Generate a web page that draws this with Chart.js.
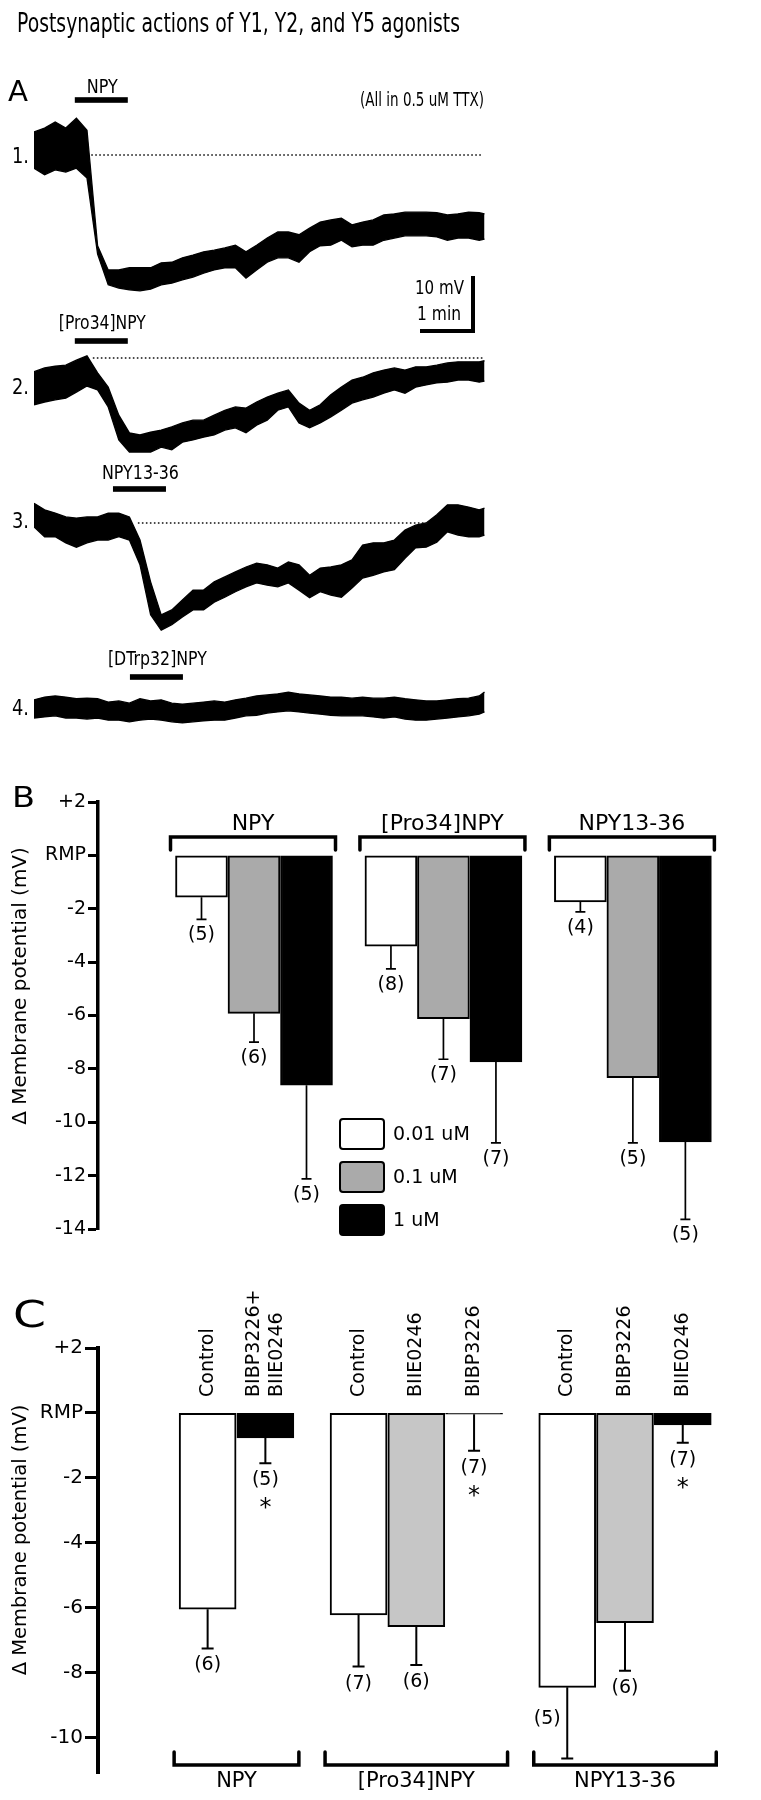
<!DOCTYPE html>
<html>
<head>
<meta charset="utf-8">
<script src="https://cdn.jsdelivr.net/npm/chart.js@4.4.1/dist/chart.umd.min.js"></script>
<style>
html,body{margin:0;padding:0;background:#fff;}
#wrap{position:relative;width:761px;height:1800px;overflow:hidden;background:#fff;}
canvas{position:absolute;left:0;}
</style>
</head>
<body>
<div id="wrap">
<canvas id="cA" width="761" height="740" style="top:0px"></canvas>
<canvas id="cB" width="761" height="510" style="top:740px"></canvas>
<canvas id="cC" width="761" height="550" style="top:1250px"></canvas>
</div>
<script>
// ================= DATA =================
// Panel A: membrane potential traces (mV relative to resting potential), read as upper / lower edge of the noisy trace
const traceTimeMin = [0,0.2,0.4,0.6,0.8,1.0,1.2,1.4,1.6,1.8,2.0,2.2,2.4,2.6,2.8,3.0,3.2,3.4,3.6,3.8,4.0,4.2,4.4,4.6,4.8,5.0,5.2,5.4,5.6,5.8,6.0,6.2,6.4,6.6,6.8,7.0,7.2,7.4,7.6,7.8,8.0,8.2,8.4,8.5];
const traceNames = ['1.','2.','3.','4.'];
const agonistNames = ['NPY','[Pro34]NPY','NPY13-36','[DTrp32]NPY'];
const agonistOnsetMin = [0.77,0.77,1.49,1.81];
const agonistDurationMin = 1.0;
const restLineMin = [[1.08,8.47],[1.11,8.47],[1.96,7.42],null];

const trace1Upper = [4.2,4.9,6.0,4.9,6.7,4.5,-16.5,-20.9,-20.9,-20.5,-20.5,-20.5,-19.6,-19.5,-18.7,-18.2,-17.6,-17.3,-16.9,-16.4,-17.6,-16.4,-15.1,-14.0,-14.0,-14.5,-13.3,-12.2,-11.8,-11.5,-12.7,-12.2,-11.8,-10.9,-10.7,-10.4,-10.4,-10.4,-10.5,-10.9,-10.7,-10.4,-10.5,-10.7];
const trace1Lower = [-2.4,-3.6,-2.7,-3.1,-2.4,-4.2,-18.0,-23.6,-24.2,-24.5,-24.7,-24.4,-23.6,-23.3,-22.7,-22.2,-21.5,-20.9,-20.5,-20.5,-22.4,-20.9,-19.5,-18.7,-18.7,-19.5,-17.6,-16.5,-16.4,-15.5,-16.7,-16.4,-16.4,-15.5,-15.1,-14.7,-14.7,-14.7,-14.9,-15.5,-15.1,-15.1,-15.5,-15.3];
const trace2Upper = [-2.5,-1.8,-1.5,-1.3,-0.4,0.4,-2.7,-5.3,-10.4,-13.6,-14.0,-13.5,-13.1,-12.5,-11.8,-11.3,-11.3,-10.4,-9.5,-8.9,-9.1,-8.0,-7.1,-6.4,-5.8,-8.2,-9.5,-8.5,-6.7,-5.3,-4.0,-3.5,-2.7,-2.2,-1.8,-2.2,-1.6,-1.6,-1.3,-0.9,-0.7,-0.7,-0.7,-0.5];
const trace2Lower = [-8.5,-8.0,-7.6,-7.3,-6.2,-5.1,-5.8,-8.9,-14.9,-17.1,-17.1,-17.1,-16.2,-16.7,-15.3,-14.9,-14.4,-14.0,-13.1,-12.7,-13.6,-12.2,-11.3,-9.5,-8.9,-11.8,-12.7,-11.8,-10.7,-9.5,-8.2,-7.6,-7.1,-6.4,-5.8,-6.4,-5.3,-4.9,-4.5,-4.4,-4.0,-4.0,-4.4,-4.2];
const trace3Upper = [3.6,2.4,1.8,1.1,0.9,1.1,1.1,1.8,1.8,1.1,-3.1,-10.7,-16.7,-15.8,-14.0,-12.2,-12.2,-10.7,-9.8,-8.9,-8.0,-7.3,-7.6,-8.2,-7.1,-7.6,-9.5,-8.2,-8.0,-7.6,-6.7,-4.0,-3.6,-3.6,-3.1,-1.3,-0.4,0.0,1.5,3.3,3.3,2.9,2.4,2.7];
const trace3Lower = [-0.7,-2.5,-2.5,-3.6,-4.4,-3.6,-3.1,-3.1,-2.5,-3.1,-7.6,-16.7,-19.5,-18.5,-17.1,-15.8,-15.8,-14.4,-13.5,-12.5,-11.6,-10.9,-11.3,-11.6,-10.9,-12.2,-13.6,-12.5,-13.1,-13.5,-11.8,-10.0,-9.5,-8.9,-8.5,-6.4,-4.5,-4.4,-3.5,-1.6,-2.2,-2.5,-2.5,-2.2];
const trace4Upper = [1.3,1.8,2.0,1.8,1.5,1.6,1.5,0.9,1.1,0.7,1.5,1.1,1.3,0.7,0.5,0.7,0.9,1.1,0.9,1.3,1.6,2.0,2.2,2.4,2.7,2.4,2.2,2.0,1.8,1.8,1.6,1.8,1.6,1.6,1.8,1.5,1.3,1.1,1.1,1.3,1.5,1.6,2.0,2.7];
const trace4Lower = [-2.0,-1.8,-1.6,-2.0,-2.0,-2.2,-2.0,-2.4,-2.4,-2.7,-2.4,-2.2,-2.4,-2.7,-2.9,-2.7,-2.5,-2.4,-2.4,-2.0,-1.6,-1.5,-1.1,-0.9,-0.7,-0.9,-1.1,-1.3,-1.5,-1.6,-1.6,-1.6,-1.8,-2.0,-1.8,-2.2,-2.4,-2.4,-2.2,-2.0,-1.8,-1.6,-1.3,-0.9];

// Panel B: concentration series
const bGroups = ['NPY','[Pro34]NPY','NPY13-36'];
const bConcs = ['0.01 uM','0.1 uM','1 uM'];
const bMean001 = [-1.57,-3.40,-1.74];
const bMean01  = [-5.92,-6.12,-8.33];
const bMean1   = [-8.61,-7.74,-10.74];
const bSem001 = [0.83,0.85,0.38];
const bSem01  = [1.08,1.52,2.44];
const bSem1   = [3.51,3.03,2.90];
const bN001 = [5,8,4];
const bN01  = [6,7,5];
const bN1   = [5,7,5];
const bTicks = [2,0,-2,-4,-6,-8,-10,-12,-14];
const bTickLabels = ['+2','RMP','-2','-4','-6','-8','-10','-12','-14'];

// Panel C: antagonists
const cGroups = ['NPY','[Pro34]NPY','NPY13-36'];
const cConditions = ['Control','BIBP3226+\nBIIE0246','Control','BIIE0246','BIBP3226','Control','BIBP3226','BIIE0246'];
const cGroupOf = [0,0,1,1,1,2,2,2];
const cMean = [-6.05,-0.77,-6.23,-6.59,-0.04,-8.46,-6.47,-0.37];
const cSem  = [1.21,0.78,1.59,1.18,1.13,2.19,1.48,0.55];
const cN    = [6,5,7,6,7,5,6,7];
const cSignificant = [false,true,false,false,true,false,false,true];
const cTicks = [2,0,-2,-4,-6,-8,-10];
const cTickLabels = ['+2','RMP','-2','-4','-6','-8','-10'];

// ================= HELPERS =================
Chart.defaults.font.family = '"DejaVu Sans", sans-serif';
Chart.defaults.color = '#000';

function drawText(ctx, text, x, y, o) {
  o = o || {};
  ctx.save();
  ctx.font = (o.weight || 'normal') + ' ' + o.size + 'px ' + (o.family || '"DejaVu Sans", sans-serif');
  ctx.fillStyle = o.color || '#000';
  ctx.textBaseline = o.baseline || 'alphabetic';
  ctx.textAlign = o.align || 'left';
  const w = ctx.measureText(text).width;
  const sx = o.width ? o.width / w : (o.sx || 1);
  ctx.translate(x, y);
  if (o.rotate) ctx.rotate(o.rotate);
  ctx.scale(sx, 1);
  ctx.fillText(text, 0, 0);
  ctx.restore();
}
function errorBar(ctx, x, y0, y1, half, lw) {
  ctx.save();
  ctx.strokeStyle = '#000'; ctx.lineWidth = lw; ctx.lineCap = 'butt';
  ctx.beginPath(); ctx.moveTo(x, y0); ctx.lineTo(x, y1);
  ctx.moveTo(x - half, y1); ctx.lineTo(x + half, y1); ctx.stroke();
  ctx.restore();
}
function bracket(ctx, x1, x2, y, dy, lw) {
  ctx.save();
  ctx.strokeStyle = '#000'; ctx.lineWidth = lw; ctx.lineJoin = 'miter'; ctx.lineCap = 'round';
  ctx.beginPath(); ctx.moveTo(x1, y + dy); ctx.lineTo(x1, y); ctx.lineTo(x2, y); ctx.lineTo(x2, y + dy); ctx.stroke();
  ctx.restore();
}
function roundBox(ctx, x, y, w, h, r, fill) {
  ctx.save();
  ctx.beginPath();
  ctx.moveTo(x + r, y); ctx.lineTo(x + w - r, y); ctx.quadraticCurveTo(x + w, y, x + w, y + r);
  ctx.lineTo(x + w, y + h - r); ctx.quadraticCurveTo(x + w, y + h, x + w - r, y + h);
  ctx.lineTo(x + r, y + h); ctx.quadraticCurveTo(x, y + h, x, y + h - r);
  ctx.lineTo(x, y + r); ctx.quadraticCurveTo(x, y, x + r, y); ctx.closePath();
  ctx.fillStyle = fill; ctx.fill();
  ctx.strokeStyle = '#000'; ctx.lineWidth = 2; ctx.stroke();
  ctx.restore();
}

// ================= PANEL A =================
const LA = {
  left: 34, right: 487, top: 100, bottom: 735, height: 740,
  pxPerMin: 53, pxPerMv: 5.5,
  baselinePx: [155, 358, 523, 707],
  numY: [163, 394, 528, 715],
  barY: [100, 341, 489, 677],
  labelY: [93, 329, 479, 665],
  labelW: [31, 87, 77, 99]
};
const aOffset = LA.baselinePx.map(p => (LA.top - p) / LA.pxPerMv);
const traceUpper = [trace1Upper, trace2Upper, trace3Upper, trace4Upper];
const traceLower = [trace1Lower, trace2Lower, trace3Lower, trace4Lower];
const aDatasets = [];
traceUpper.forEach((up, k) => {
  aDatasets.push({
    data: traceTimeMin.map((t, i) => ({x: t, y: aOffset[k] + up[i]})),
    borderColor: '#000', borderWidth: 1.3, pointRadius: 0, tension: 0, fill: false
  });
  aDatasets.push({
    data: traceTimeMin.map((t, i) => ({x: t, y: aOffset[k] + traceLower[k][i]})),
    borderColor: '#000', borderWidth: 1.3, pointRadius: 0, tension: 0,
    fill: '-1', backgroundColor: '#000'
  });
});

const panelAPlugin = {
  id: 'panelA',
  afterDraw(chart) {
    const ctx = chart.ctx, xs = chart.scales.x, ys = chart.scales.y;
    drawText(ctx, 'Postsynaptic actions of Y1, Y2, and Y5 agonists', 17, 32, {size: 27, width: 443});
    drawText(ctx, 'A', 8, 101, {size: 29, width: 20});
    drawText(ctx, '(All in 0.5 uM TTX)', 360, 106, {size: 20, width: 124});
    traceNames.forEach((n, k) => {
      drawText(ctx, n, 12, LA.numY[k], {size: 22, width: 17});
      // agonist application bar
      const x1 = xs.getPixelForValue(agonistOnsetMin[k]);
      const x2 = xs.getPixelForValue(agonistOnsetMin[k] + agonistDurationMin);
      ctx.save(); ctx.fillStyle = '#000';
      ctx.fillRect(x1, LA.barY[k] - 2.8, x2 - x1, 5.6); ctx.restore();
      drawText(ctx, agonistNames[k], (x1 + x2) / 2 + 1, LA.labelY[k], {size: 20, width: LA.labelW[k], align: 'center'});
      // resting potential dotted line
      if (restLineMin[k]) {
        const y = ys.getPixelForValue(aOffset[k]);
        ctx.save(); ctx.strokeStyle = '#111'; ctx.lineWidth = 1.4; ctx.setLineDash([1.6, 2.4]);
        ctx.beginPath(); ctx.moveTo(xs.getPixelForValue(restLineMin[k][0]), y);
        ctx.lineTo(xs.getPixelForValue(restLineMin[k][1]), y); ctx.stroke(); ctx.restore();
      }
    });
    // scale bar: 10 mV, 1 min
    const tC = xs.getValueForPixel(473), vC = ys.getValueForPixel(331);
    ctx.save(); ctx.strokeStyle = '#000'; ctx.lineWidth = 4; ctx.lineJoin = 'miter';
    ctx.beginPath();
    ctx.moveTo(xs.getPixelForValue(tC - 1), ys.getPixelForValue(vC));
    ctx.lineTo(xs.getPixelForValue(tC), ys.getPixelForValue(vC));
    ctx.lineTo(xs.getPixelForValue(tC), ys.getPixelForValue(vC + 10));
    ctx.stroke(); ctx.restore();
    drawText(ctx, '10 mV', 464, 294, {size: 20, width: 49, align: 'right'});
    drawText(ctx, '1 min', 461, 320, {size: 20, width: 44, align: 'right'});
  }
};

new Chart(document.getElementById('cA'), {
  type: 'line',
  data: {datasets: aDatasets},
  options: {
    responsive: false, animation: false, devicePixelRatio: 1,
    layout: {padding: {left: LA.left, right: 761 - LA.right, top: LA.top, bottom: LA.height - LA.bottom}},
    plugins: {legend: {display: false}, tooltip: {enabled: false}},
    scales: {
      x: {type: 'linear', display: false, min: 0, max: (LA.right - LA.left) / LA.pxPerMin},
      y: {type: 'linear', display: false, min: -(LA.bottom - LA.top) / LA.pxPerMv, max: 0}
    }
  },
  plugins: [panelAPlugin]
});

// ================= PANEL B =================
const bMeans = [bMean001, bMean01, bMean1];
const bSems = [bSem001, bSem01, bSem1];
const bNs = [bN001, bN01, bN1];
const bColors = ['#ffffff', '#aaaaaa', '#000000'];
function bX(g, s) { const i = g * 3 + s; return 71 + i * 60 + g * 36.5; }
const bDatasets = bConcs.map((lab, s) => ({
  label: lab,
  data: bGroups.map((name, g) => ({x: bX(g, s), y: bMeans[s][g]})),
  backgroundColor: bColors[s], borderColor: '#000', borderWidth: 2, borderSkipped: false,
  barThickness: 52, grouped: false
}));

const panelBPlugin = {
  id: 'panelB',
  afterDatasetsDraw(chart) {
    const ctx = chart.ctx, ys = chart.scales.y;
    bConcs.forEach((lab, s) => {
      chart.getDatasetMeta(s).data.forEach((bar, g) => {
        const yEnd = ys.getPixelForValue(bMeans[s][g] - bSems[s][g]);
        errorBar(ctx, bar.x, bar.y, yEnd, 5, 1.7);
        drawText(ctx, '(' + bNs[s][g] + ')', bar.x, yEnd + 16, {size: 19, align: 'center', baseline: 'middle'});
      });
    });
    const m0 = chart.getDatasetMeta(0), m2 = chart.getDatasetMeta(bConcs.length - 1);
    bGroups.forEach((name, g) => {
      const a = m0.data[g], b = m2.data[g];
      const x1 = a.x - a.width / 2 - 5, x2 = b.x + b.width / 2 + 3;
      bracket(ctx, x1, x2, 97, 13, 3.5);
      drawText(ctx, name, (x1 + x2) / 2, 90, {size: 22, align: 'center'});
    });
    bConcs.forEach((lab, s) => {
      const top = 379 + s * 43;
      roundBox(ctx, 340, top, 44, 30, 3, bColors[s]);
      drawText(ctx, lab, 393, top + 16, {size: 19, baseline: 'middle'});
    });
  },
  afterDraw(chart) {
    const ctx = chart.ctx;
    drawText(ctx, 'B', 12, 67, {size: 28, width: 23});
    drawText(ctx, '\u0394 Membrane potential (mV)', 21, 246, {size: 20, rotate: -Math.PI / 2, align: 'center', baseline: 'middle'});
  }
};

new Chart(document.getElementById('cB'), {
  type: 'bar',
  data: {datasets: bDatasets},
  options: {
    responsive: false, animation: false, devicePixelRatio: 1,
    layout: {padding: {left: 0, right: 1, top: 62, bottom: 21}},
    plugins: {legend: {display: false}, tooltip: {enabled: false}},
    scales: {
      x: {type: 'linear', display: false, min: 0, max: 662},
      y: {
        type: 'linear', min: -14, max: 2,
        afterFit: (s) => { s.width = 98; },
        afterBuildTicks: (s) => { s.ticks = bTicks.map(v => ({value: v})); },
        ticks: {autoSkip: false, padding: 2, color: '#000', font: {size: 19},
          callback: (v) => bTickLabels[bTicks.indexOf(v)]},
        grid: {drawOnChartArea: false, drawTicks: true, tickLength: 10, tickWidth: 3, tickColor: '#000'},
        border: {display: true, color: '#000', width: 3.5}
      }
    }
  },
  plugins: [panelBPlugin]
});

// ================= PANEL C =================
function cX(i) { return 78 + i * 66 + cGroupOf[i] * 40.5; }
function cColor(i) { return cConditions[i] === 'Control' ? '#ffffff' : (cSignificant[i] ? '#000000' : '#c6c6c6'); }
const cDataset = {
  label: 'antagonists',
  data: cMean.map((v, i) => ({x: cX(i), y: v})),
  backgroundColor: cMean.map((v, i) => cColor(i)),
  borderColor: '#000', borderWidth: 2, borderSkipped: false,
  barThickness: 57, grouped: false
};

const panelCPlugin = {
  id: 'panelC',
  afterDatasetsDraw(chart) {
    const ctx = chart.ctx, ys = chart.scales.y;
    const bars = chart.getDatasetMeta(0).data;
    const bracketY = 515;
    bars.forEach((bar, i) => {
      const yEnd = ys.getPixelForValue(cMean[i] - cSem[i]);
      errorBar(ctx, bar.x, bar.y, yEnd, 6, 2);
      if (yEnd + 27 > bracketY - 13) {
        drawText(ctx, '(' + cN[i] + ')', bar.x - 20, (bar.y + yEnd) / 2 - 4, {size: 19, align: 'center', baseline: 'middle'});
      } else {
        drawText(ctx, '(' + cN[i] + ')', bar.x, yEnd + 17, {size: 19, align: 'center', baseline: 'middle'});
      }
      if (cSignificant[i]) drawText(ctx, '*', bar.x, yEnd + 46, {size: 24, align: 'center', baseline: 'middle'});
      const lines = cConditions[i].split('\n');
      lines.forEach((ln, j) => {
        drawText(ctx, ln, bar.x + (j - (lines.length - 1) / 2) * 23, 147, {size: 19, rotate: -Math.PI / 2, align: 'left', baseline: 'middle'});
      });
    });
    cGroups.forEach((name, g) => {
      const idx = cGroupOf.map((gg, i) => gg === g ? i : -1).filter(i => i >= 0);
      const a = bars[idx[0]], b = bars[idx[idx.length - 1]];
      const x1 = a.x - a.width / 2 - 5, x2 = b.x + b.width / 2 + 5;
      bracket(ctx, x1, x2, bracketY, -13, 3.5);
      drawText(ctx, name, (x1 + x2) / 2, 537, {size: 21, align: 'center'});
    });
  },
  afterDraw(chart) {
    const ctx = chart.ctx;
    drawText(ctx, 'C', 13, 77, {size: 37, width: 33});
    drawText(ctx, '\u0394 Membrane potential (mV)', 21, 290, {size: 19.5, rotate: -Math.PI / 2, align: 'center', baseline: 'middle'});
  }
};

new Chart(document.getElementById('cC'), {
  type: 'bar',
  data: {datasets: [cDataset]},
  options: {
    responsive: false, animation: false, devicePixelRatio: 1,
    layout: {padding: {left: 0, right: 1, top: 98, bottom: 27}},
    plugins: {legend: {display: false}, tooltip: {enabled: false}},
    scales: {
      x: {type: 'linear', display: false, min: 0, max: 662},
      y: {
        type: 'linear', min: -11.1, max: 2,
        afterFit: (s) => { s.width = 98; },
        afterBuildTicks: (s) => { s.ticks = cTicks.map(v => ({value: v})); },
        ticks: {autoSkip: false, padding: 2, color: '#000', font: {size: 20},
          callback: (v) => cTickLabels[cTicks.indexOf(v)]},
        grid: {drawOnChartArea: false, drawTicks: true, tickLength: 13, tickWidth: 3, tickColor: '#000'},
        border: {display: true, color: '#000', width: 4}
      }
    }
  },
  plugins: [panelCPlugin]
});
</script>
</body>
</html>
